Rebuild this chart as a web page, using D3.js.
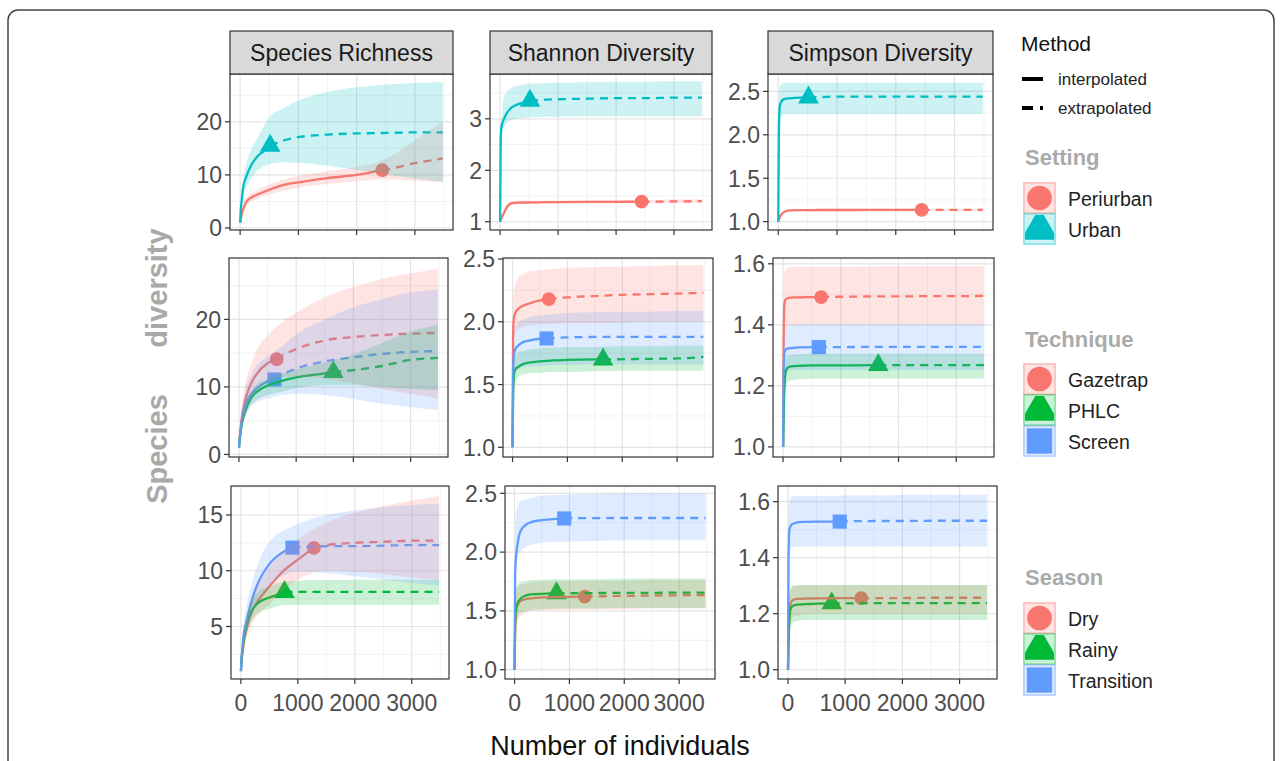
<!DOCTYPE html>
<html>
<head>
<meta charset="utf-8">
<script src="https://cdn.jsdelivr.net/npm/d3@7"></script>
<style>
  body { margin: 0; background: #fff; }
  svg { display: block; font-family: "Liberation Sans", Arial, sans-serif; }
</style>
</head>
<body>
<svg id="chart" width="1282" height="761"></svg>
<script>
// ---------------------------------------------
// DATA
// ---------------------------------------------
const XS = [1, 10, 25, 50, 100, 200, 300, 500, 750, 1000, 1500, 2000, 2500, 3000, 3480];
const X_TICKS = [0, 1000, 2000, 3000];
const X_MINOR = [500, 1500, 2500, 3500];

const METRICS = ["Species Richness", "Shannon Diversity", "Simpson Diversity"];
const FACTORS = ["Setting", "Technique", "Season"];

const SETTING_GROUPS = ["Periurban", "Urban"];
const TECHNIQUE_GROUPS = ["Gazetrap", "PHLC", "Screen"];
const SEASON_GROUPS = ["Dry", "Rainy", "Transition"];

// reference sample sizes (where the marker sits)
const SETTING_N = [2440, 515];
const TECHNIQUE_N = [660, 1650, 620];
const SEASON_N = [1280, 765, 905];

const Y_TICKS = [
  [[0, 10, 20], [1, 2, 3], [1.0, 1.5, 2.0, 2.5]],
  [[0, 10, 20], [1.0, 1.5, 2.0, 2.5], [1.0, 1.2, 1.4, 1.6]],
  [[5, 10, 15], [1.0, 1.5, 2.0, 2.5], [1.0, 1.2, 1.4, 1.6]]
];

// row 1 : Setting
const RICH_SETTING = {
  mark: [10.9, 15.5],
  est: [[1, 1.6, 2.5, 3.5, 4.8, 5.8, 6.3, 7.2, 8.1, 8.6, 9.4, 10.0, 11.0, 12.2, 13.1],
        [1, 3.2, 5, 7.5, 9.5, 12, 13.5, 15.3, 16.5, 17.1, 17.6, 17.8, 17.9, 18.0, 18.0]],
  lo:  [[1, 1.3, 2, 2.8, 4, 5, 5.5, 6.3, 7, 7.6, 8.3, 8.8, 9.2, 8.9, 8.6],
        [1, 2.6, 4, 6, 7.5, 9.5, 10.8, 12, 12.4, 12.3, 11.7, 10.9, 10.1, 9.3, 8.7]],
  hi:  [[1, 1.9, 3, 4.2, 5.6, 6.6, 7.2, 8.2, 9.1, 9.8, 10.7, 11.5, 13, 16.5, 20],
        [1, 3.8, 6, 9, 11.8, 15, 17, 20.8, 22.6, 24, 25.6, 26.5, 27, 27.3, 27.5]]
};
const SHAN_SETTING = {
  mark: [1.39, 3.35],
  est: [[1.0, 1.03, 1.07, 1.13, 1.25, 1.36, 1.37, 1.375, 1.38, 1.383, 1.386, 1.388, 1.39, 1.395, 1.4],
        [1.0, 2.6, 2.85, 2.95, 3.08, 3.22, 3.28, 3.345, 3.37, 3.38, 3.39, 3.4, 3.4, 3.41, 3.41]],
  lo:  [[1.0, 1.02, 1.05, 1.1, 1.21, 1.32, 1.34, 1.35, 1.355, 1.36, 1.36, 1.36, 1.36, 1.36, 1.36],
        [1.0, 2.3, 2.7, 2.8, 2.9, 2.98, 3.0, 3.03, 3.04, 3.04, 3.05, 3.05, 3.05, 3.05, 3.05]],
  hi:  [[1.0, 1.04, 1.09, 1.16, 1.29, 1.4, 1.41, 1.41, 1.41, 1.41, 1.415, 1.42, 1.42, 1.43, 1.44],
        [1.0, 2.9, 3.0, 3.3, 3.5, 3.6, 3.64, 3.68, 3.69, 3.7, 3.71, 3.72, 3.72, 3.73, 3.73]]
};
const SIMP_SETTING = {
  mark: [1.135, 2.43],
  est: [[1.0, 1.02, 1.05, 1.08, 1.11, 1.13, 1.132, 1.133, 1.134, 1.134, 1.135, 1.135, 1.135, 1.135, 1.135],
        [1.0, 2.0, 2.32, 2.38, 2.41, 2.42, 2.425, 2.43, 2.435, 2.44, 2.44, 2.44, 2.44, 2.44, 2.44]],
  lo:  [[1.0, 1.01, 1.04, 1.07, 1.1, 1.12, 1.12, 1.12, 1.12, 1.12, 1.12, 1.12, 1.12, 1.12, 1.12],
        [1.0, 1.8, 2.1, 2.2, 2.24, 2.24, 2.24, 2.24, 2.24, 2.24, 2.24, 2.24, 2.24, 2.24, 2.24]],
  hi:  [[1.0, 1.03, 1.06, 1.09, 1.12, 1.14, 1.145, 1.147, 1.148, 1.15, 1.15, 1.15, 1.15, 1.15, 1.15],
        [1.0, 2.3, 2.55, 2.58, 2.6, 2.6, 2.6, 2.6, 2.6, 2.6, 2.6, 2.6, 2.6, 2.6, 2.6]]
};

// row 2 : Technique
const RICH_TECHNIQUE = {
  mark: [14.1, 12.2, 11.1],
  est: [[1, 2, 3.5, 5.5, 7.7, 10.3, 11.8, 13.5, 14.6, 15.6, 16.9, 17.4, 17.7, 17.9, 18.0],
        [1, 2, 3, 4.5, 6.2, 8.2, 9.2, 10.2, 10.9, 11.4, 12.0, 12.5, 13.1, 14.0, 14.3],
        [1, 2, 3.2, 5, 7, 8.8, 9.7, 10.8, 11.8, 12.7, 13.8, 14.4, 14.9, 15.2, 15.3]],
  lo:  [[1, 1.6, 2.5, 4, 5.5, 8, 9.3, 10.8, 11.4, 11.5, 11.2, 10.5, 9.7, 9, 8.3],
        [1, 1.7, 2.5, 3.8, 5.3, 7.2, 8, 8.8, 9.3, 9.8, 10.3, 10.3, 10, 9.7, 9.5],
        [1, 1.6, 2.5, 4, 5.5, 7, 7.7, 8.3, 8.8, 9, 8.8, 8.2, 7.5, 7, 6.6]],
  hi:  [[1, 2.4, 4.5, 7, 10, 13, 15.3, 17.6, 19.6, 21, 23.3, 24.8, 26, 26.8, 27.5],
        [1, 2.3, 3.5, 5.2, 7, 9.2, 10.3, 11.2, 12, 12.6, 13.6, 14.8, 16.5, 18.2, 19.2],
        [1, 2.4, 4, 6.5, 9, 11.5, 13, 14.5, 16, 17.8, 20, 21.8, 23, 24, 24.4]]
};
const SHAN_TECHNIQUE = {
  mark: [2.18, 1.70, 1.867],
  est: [[1.0, 1.9, 2.03, 2.07, 2.1, 2.13, 2.145, 2.17, 2.185, 2.195, 2.205, 2.215, 2.22, 2.225, 2.23],
        [1.0, 1.4, 1.58, 1.62, 1.64, 1.665, 1.675, 1.685, 1.693, 1.697, 1.70, 1.702, 1.705, 1.708, 1.72],
        [1.0, 1.6, 1.74, 1.78, 1.81, 1.84, 1.85, 1.865, 1.872, 1.876, 1.879, 1.88, 1.88, 1.88, 1.88]],
  lo:  [[1.0, 1.7, 1.85, 1.9, 1.94, 1.96, 1.97, 1.98, 1.985, 1.99, 1.99, 1.995, 2.0, 2.0, 2.0],
        [1.0, 1.25, 1.45, 1.52, 1.56, 1.58, 1.59, 1.595, 1.6, 1.6, 1.605, 1.61, 1.61, 1.61, 1.61],
        [1.0, 1.45, 1.56, 1.6, 1.62, 1.64, 1.645, 1.65, 1.655, 1.655, 1.66, 1.66, 1.66, 1.66, 1.66]],
  hi:  [[1.0, 2.1, 2.25, 2.3, 2.35, 2.38, 2.4, 2.41, 2.42, 2.43, 2.435, 2.44, 2.445, 2.45, 2.45],
        [1.0, 1.55, 1.7, 1.73, 1.76, 1.77, 1.78, 1.79, 1.795, 1.8, 1.8, 1.805, 1.805, 1.81, 1.81],
        [1.0, 1.8, 1.9, 1.95, 1.99, 2.02, 2.035, 2.05, 2.06, 2.07, 2.075, 2.08, 2.08, 2.085, 2.085]]
};
const SIMP_TECHNIQUE = {
  mark: [1.491, 1.268, 1.327],
  est: [[1.0, 1.35, 1.47, 1.485, 1.488, 1.49, 1.49, 1.491, 1.492, 1.492, 1.493, 1.493, 1.494, 1.494, 1.495],
        [1.0, 1.1, 1.2, 1.25, 1.262, 1.265, 1.266, 1.267, 1.267, 1.267, 1.268, 1.268, 1.268, 1.268, 1.268],
        [1.0, 1.25, 1.31, 1.32, 1.323, 1.325, 1.326, 1.327, 1.327, 1.327, 1.328, 1.328, 1.328, 1.328, 1.328]],
  lo:  [[1.0, 1.25, 1.37, 1.39, 1.4, 1.4, 1.4, 1.4, 1.4, 1.4, 1.4, 1.4, 1.4, 1.4, 1.4],
        [1.0, 1.05, 1.15, 1.2, 1.215, 1.22, 1.222, 1.224, 1.224, 1.224, 1.224, 1.224, 1.224, 1.224, 1.224],
        [1.0, 1.15, 1.23, 1.245, 1.25, 1.252, 1.252, 1.252, 1.252, 1.252, 1.252, 1.252, 1.252, 1.252, 1.252]],
  hi:  [[1.0, 1.5, 1.57, 1.58, 1.59, 1.59, 1.59, 1.59, 1.59, 1.59, 1.591, 1.592, 1.592, 1.593, 1.593],
        [1.0, 1.15, 1.25, 1.29, 1.3, 1.303, 1.304, 1.305, 1.305, 1.305, 1.305, 1.305, 1.305, 1.305, 1.305],
        [1.0, 1.32, 1.38, 1.395, 1.4, 1.402, 1.402, 1.402, 1.402, 1.402, 1.402, 1.402, 1.402, 1.402, 1.402]]
};

// row 3 : Season
const RICH_SEASON = {
  mark: [12.05, 8.1, 12.07],
  est: [[1, 1.8, 2.5, 3.6, 4.8, 6.4, 7.3, 8.6, 10, 11, 12.3, 12.5, 12.6, 12.7, 12.7],
        [1, 2, 2.7, 3.8, 5.2, 6.5, 7.1, 7.6, 8.05, 8.1, 8.1, 8.1, 8.1, 8.1, 8.1],
        [1, 2, 3.0, 4.3, 5.5, 7.5, 8.9, 10.6, 11.7, 12.1, 12.2, 12.2, 12.25, 12.3, 12.3]],
  lo:  [[1, 1.5, 2, 2.9, 3.9, 5.3, 6, 7, 8.2, 9.2, 10, 9.9, 9.7, 9.4, 9.2],
        [1, 1.7, 2.2, 3, 4.3, 5.6, 6.2, 6.6, 6.9, 6.95, 6.95, 6.95, 6.95, 6.95, 6.95],
        [1, 1.6, 2.3, 3.4, 4.4, 6.2, 7.3, 8.7, 9.6, 9.9, 9.8, 9.5, 9.2, 8.9, 8.7]],
  hi:  [[1, 2.1, 3, 4.3, 5.7, 7.5, 8.8, 10.3, 11.8, 12.8, 14.3, 15.2, 15.8, 16.3, 16.7],
        [1, 2.3, 3.3, 4.6, 6, 7.4, 8.1, 8.6, 9, 9.1, 9.2, 9.2, 9.2, 9.2, 9.2],
        [1, 2.4, 3.8, 5.3, 6.8, 9, 10.6, 12.6, 13.6, 14.2, 15, 15.4, 15.7, 15.9, 16]]
};
const SHAN_SEASON = {
  mark: [1.622, 1.65, 2.286],
  est: [[1.0, 1.3, 1.48, 1.54, 1.58, 1.6, 1.607, 1.615, 1.618, 1.62, 1.624, 1.628, 1.63, 1.633, 1.635],
        [1.0, 1.35, 1.52, 1.56, 1.6, 1.63, 1.64, 1.645, 1.65, 1.65, 1.652, 1.653, 1.654, 1.655, 1.655],
        [1.0, 1.8, 1.95, 2.05, 2.17, 2.23, 2.255, 2.272, 2.282, 2.288, 2.289, 2.29, 2.29, 2.29, 2.29]],
  lo:  [[1.0, 1.1, 1.3, 1.4, 1.45, 1.48, 1.5, 1.505, 1.51, 1.51, 1.515, 1.515, 1.52, 1.52, 1.52],
        [1.0, 1.2, 1.38, 1.44, 1.48, 1.5, 1.51, 1.515, 1.52, 1.52, 1.52, 1.525, 1.525, 1.525, 1.525],
        [1.0, 1.55, 1.8, 1.95, 2.0, 2.04, 2.06, 2.08, 2.085, 2.09, 2.095, 2.1, 2.1, 2.1, 2.1]],
  hi:  [[1.0, 1.55, 1.65, 1.7, 1.72, 1.73, 1.74, 1.745, 1.75, 1.75, 1.755, 1.755, 1.76, 1.76, 1.76],
        [1.0, 1.55, 1.68, 1.72, 1.74, 1.75, 1.76, 1.765, 1.77, 1.77, 1.772, 1.774, 1.775, 1.775, 1.775],
        [1.0, 2.1, 2.3, 2.38, 2.43, 2.45, 2.46, 2.48, 2.485, 2.49, 2.495, 2.5, 2.5, 2.5, 2.5]]
};
const SIMP_SEASON = {
  mark: [1.256, 1.237, 1.529],
  est: [[1.0, 1.12, 1.2, 1.24, 1.25, 1.253, 1.254, 1.255, 1.255, 1.256, 1.256, 1.256, 1.257, 1.257, 1.257],
        [1.0, 1.1, 1.18, 1.22, 1.23, 1.233, 1.234, 1.236, 1.237, 1.237, 1.238, 1.238, 1.238, 1.238, 1.238],
        [1.0, 1.4, 1.5, 1.515, 1.522, 1.527, 1.528, 1.529, 1.529, 1.53, 1.531, 1.531, 1.532, 1.532, 1.532]],
  lo:  [[1.0, 1.0, 1.12, 1.17, 1.19, 1.195, 1.2, 1.2, 1.2, 1.2, 1.2, 1.2, 1.2, 1.2, 1.2],
        [1.0, 1.02, 1.12, 1.15, 1.17, 1.175, 1.178, 1.178, 1.178, 1.178, 1.178, 1.178, 1.178, 1.178, 1.178],
        [1.0, 1.3, 1.4, 1.43, 1.438, 1.44, 1.44, 1.44, 1.44, 1.44, 1.44, 1.44, 1.44, 1.44, 1.44]],
  hi:  [[1.0, 1.2, 1.26, 1.29, 1.3, 1.3, 1.3, 1.3, 1.3, 1.3, 1.3, 1.3, 1.3, 1.3, 1.3],
        [1.0, 1.2, 1.27, 1.29, 1.3, 1.302, 1.303, 1.303, 1.303, 1.303, 1.303, 1.303, 1.303, 1.303, 1.303],
        [1.0, 1.55, 1.6, 1.615, 1.62, 1.62, 1.62, 1.62, 1.621, 1.622, 1.623, 1.624, 1.625, 1.625, 1.625]]
};

// ---------------------------------------------
// LAYOUT + STYLE
// ---------------------------------------------
const COLORS3 = ["#F8766D", "#00BA38", "#619CFF"];
const COLORS2 = ["#F8766D", "#00BFC4"];
const SHAPES3 = [d3.symbolCircle, d3.symbolTriangle, d3.symbolSquare];
const SHAPE_SIZE = new Map([[d3.symbolCircle, 150], [d3.symbolTriangle, 185], [d3.symbolSquare, 200]]);

const ROWS = [
  {groups: SETTING_GROUPS, n: SETTING_N, colors: COLORS2, panels: [RICH_SETTING, SHAN_SETTING, SIMP_SETTING]},
  {groups: TECHNIQUE_GROUPS, n: TECHNIQUE_N, colors: COLORS3, panels: [RICH_TECHNIQUE, SHAN_TECHNIQUE, SIMP_TECHNIQUE]},
  {groups: SEASON_GROUPS, n: SEASON_N, colors: COLORS3, panels: [RICH_SEASON, SHAN_SEASON, SIMP_SEASON]}
];

// panel rectangles [left, top, right, bottom] and visible y range
const RECTS = [
  [[230, 74, 453, 230], [490, 74, 712, 230], [768, 74, 993, 230]],
  [[229, 258, 448, 457], [503, 258, 713, 457], [773, 258, 994, 457]],
  [[231, 486, 449, 679], [505, 486, 715, 679], [778, 486, 997, 679]]
];
const Y_RANGE = [
  [[-0.38, 29.0], [0.84, 3.87], [0.904, 2.70]],
  [[-0.38, 29.1], [0.923, 2.508], [0.967, 1.619]],
  [[0.29, 17.6], [0.921, 2.562], [0.967, 1.656]]
];
const X_RANGE = [-174, 3654];
const STRIP_TOP = 31;

const svg = d3.select("#chart");

// outer frame of the figure
svg.append("rect")
  .attr("x", 8).attr("y", 10).attr("width", 1266).attr("height", 770)
  .attr("rx", 10).attr("fill", "none").attr("stroke", "#444").attr("stroke-width", 1.5);

let clipId = 0;

ROWS.forEach((row, r) => {
  row.panels.forEach((pd, c) => {
    const [L, T, R, B] = RECTS[r][c];
    const x = d3.scaleLinear().domain(X_RANGE).range([L, R]);
    const y = d3.scaleLinear().domain(Y_RANGE[r][c]).range([B, T]);
    const g = svg.append("g");

    // grid
    const yt = Y_TICKS[r][c];
    const step = yt[1] - yt[0];
    const yMinor = yt.map(v => v - step / 2).concat([yt[yt.length - 1] + step / 2])
      .filter(v => v > Y_RANGE[r][c][0] && v < Y_RANGE[r][c][1]);

    g.selectAll(".gmx").data(X_MINOR).enter().append("line")
      .attr("x1", d => x(d)).attr("x2", d => x(d)).attr("y1", T).attr("y2", B)
      .attr("stroke", "#f0f0f0").attr("stroke-width", 0.9);
    g.selectAll(".gmy").data(yMinor).enter().append("line")
      .attr("x1", L).attr("x2", R).attr("y1", d => y(d)).attr("y2", d => y(d))
      .attr("stroke", "#f0f0f0").attr("stroke-width", 0.9);
    g.selectAll(".gx").data(X_TICKS).enter().append("line")
      .attr("x1", d => x(d)).attr("x2", d => x(d)).attr("y1", T).attr("y2", B)
      .attr("stroke", "#e4e4e4").attr("stroke-width", 1.2);
    g.selectAll(".gy").data(yt).enter().append("line")
      .attr("x1", L).attr("x2", R).attr("y1", d => y(d)).attr("y2", d => y(d))
      .attr("stroke", "#e4e4e4").attr("stroke-width", 1.2);

    // clip
    const cid = "clip" + (clipId++);
    svg.append("clipPath").attr("id", cid)
      .append("rect").attr("x", L).attr("y", T).attr("width", R - L).attr("height", B - T);
    const body = g.append("g").attr("clip-path", `url(#${cid})`);

    const line = d3.line().x(d => x(d[0])).y(d => y(d[1])).curve(d3.curveMonotoneX);
    const area = d3.area().x((d, i) => x(XS[i])).y0(d => y(d[0])).y1(d => y(d[1]))
      .curve(d3.curveMonotoneX);

    // points
    row.groups.forEach((grp, k) => {
      body.append("path")
        .attr("transform", `translate(${x(row.n[k])},${y(pd.mark[k])})`)
        .attr("d", d3.symbol().type(SHAPES3[k]).size(SHAPE_SIZE.get(SHAPES3[k]))())
        .attr("fill", row.colors[k]);
    });

    // lines
    row.groups.forEach((grp, k) => {
      const interp = [], extrap = [];
      XS.forEach((xv, i) => {
        if (xv < row.n[k]) interp.push([xv, pd.est[k][i]]);
        else extrap.push([xv, pd.est[k][i]]);
      });
      interp.push([row.n[k], pd.mark[k]]);
      extrap.unshift([row.n[k], pd.mark[k]]);
      body.append("path").attr("d", line(interp))
        .attr("fill", "none").attr("stroke", row.colors[k]).attr("stroke-width", 2.3);
      body.append("path").attr("d", line(extrap))
        .attr("fill", "none").attr("stroke", row.colors[k]).attr("stroke-width", 2.3)
        .attr("stroke-dasharray", "8,6");
    });

    // ribbons (drawn last, as in ggiNEXT)
    row.groups.forEach((grp, k) => {
      body.append("path")
        .attr("d", area(pd.lo[k].map((v, i) => [v, pd.hi[k][i]])))
        .attr("fill", row.colors[k]).attr("fill-opacity", 0.2);
    });

    // border
    g.append("rect").attr("x", L).attr("y", T).attr("width", R - L).attr("height", B - T)
      .attr("fill", "none").attr("stroke", "#333").attr("stroke-width", 1.2);

    // axes ticks
    g.selectAll(".tx").data(X_TICKS).enter().append("line")
      .attr("x1", d => x(d)).attr("x2", d => x(d)).attr("y1", B).attr("y2", B + 5)
      .attr("stroke", "#333").attr("stroke-width", 1.2);
    g.selectAll(".ty").data(yt).enter().append("line")
      .attr("x1", L - 5).attr("x2", L).attr("y1", d => y(d)).attr("y2", d => y(d))
      .attr("stroke", "#333").attr("stroke-width", 1.2);

    const fmt = Number.isInteger(step) && yt.every(Number.isInteger) ? d3.format("d") : d3.format(".1f");
    g.selectAll(".ly").data(yt).enter().append("text")
      .attr("x", L - 8).attr("y", d => y(d)).attr("dy", "0.36em")
      .attr("text-anchor", "end").attr("font-size", 23).attr("fill", "#4d4d4d")
      .text(d => fmt(d));

    if (r === 2) {
      g.selectAll(".lx").data(X_TICKS).enter().append("text")
        .attr("x", d => x(d)).attr("y", B + 32)
        .attr("text-anchor", "middle").attr("font-size", 23).attr("fill", "#4d4d4d")
        .text(d => d);
    }

    // strip
    if (r === 0) {
      g.append("rect").attr("x", L).attr("y", STRIP_TOP).attr("width", R - L).attr("height", T - STRIP_TOP)
        .attr("fill", "#d9d9d9").attr("stroke", "#333").attr("stroke-width", 1.2);
      g.append("text").attr("x", (L + R) / 2).attr("y", (STRIP_TOP + T) / 2).attr("dy", "0.36em")
        .attr("text-anchor", "middle").attr("font-size", 23).attr("fill", "#1a1a1a")
        .text(METRICS[c]);
    }
  });
});

// axis titles
svg.append("text").attr("x", 620).attr("y", 755).attr("text-anchor", "middle")
  .attr("font-size", 27).attr("fill", "#111").text("Number of individuals");
svg.append("text").attr("transform", "translate(167,449) rotate(-90)")
  .attr("text-anchor", "middle").attr("font-size", 29).attr("font-weight", "bold")
  .attr("fill", "#a9a9a9").text("Species");
svg.append("text").attr("transform", "translate(167,288) rotate(-90)")
  .attr("text-anchor", "middle").attr("font-size", 29).attr("font-weight", "bold")
  .attr("fill", "#a9a9a9").text("diversity");

// ---------------------------------------------
// LEGENDS
// ---------------------------------------------
const leg = svg.append("g");
leg.append("text").attr("x", 1021).attr("y", 51).attr("font-size", 21).attr("fill", "#111").text("Method");
leg.append("line").attr("x1", 1022).attr("x2", 1043).attr("y1", 79).attr("y2", 79)
  .attr("stroke", "#000").attr("stroke-width", 4);
leg.append("line").attr("x1", 1022).attr("x2", 1043).attr("y1", 108).attr("y2", 108)
  .attr("stroke", "#000").attr("stroke-width", 4).attr("stroke-dasharray", "11,7");
leg.append("text").attr("x", 1058).attr("y", 79).attr("dy", "0.36em").attr("font-size", 17)
  .attr("fill", "#222").text("interpolated");
leg.append("text").attr("x", 1058).attr("y", 108).attr("dy", "0.36em").attr("font-size", 17)
  .attr("fill", "#222").text("extrapolated");

const LEGEND_TITLE_Y = [157, 339, 577];
const LEGEND_KEY_Y = [183, 364, 603];

ROWS.forEach((row, r) => {
  leg.append("text").attr("x", 1025).attr("y", LEGEND_TITLE_Y[r]).attr("dy", "0.36em")
    .attr("font-size", 22).attr("font-weight", "bold").attr("fill", "#aaa").text(FACTORS[r]);
  row.groups.forEach((grp, k) => {
    const ky = LEGEND_KEY_Y[r] + k * 31;
    const kid = "kclip" + r + "_" + k;
    svg.append("clipPath").attr("id", kid)
      .append("rect").attr("x", 1025).attr("y", ky + 1).attr("width", 29).attr("height", 28);
    const kg = leg.append("g");
    kg.append("rect").attr("x", 1024).attr("y", ky).attr("width", 31).attr("height", 30)
      .attr("fill", "#fff").attr("stroke", row.colors[k]).attr("stroke-opacity", 0.55).attr("stroke-width", 1.5);
    const inner = kg.append("g").attr("clip-path", `url(#${kid})`);
    inner.append("path")
      .attr("transform", `translate(1039.5,${ky + 15})`)
      .attr("d", d3.symbol().type(SHAPES3[k]).size(SHAPE_SIZE.get(SHAPES3[k]) * 3.2)())
      .attr("fill", row.colors[k]);
    inner.append("rect").attr("x", 1024).attr("y", ky).attr("width", 31).attr("height", 30)
      .attr("fill", row.colors[k]).attr("fill-opacity", 0.2);
    leg.append("text").attr("x", 1068).attr("y", ky + 16).attr("dy", "0.36em")
      .attr("font-size", 19.5).attr("fill", "#222").text(grp);
  });
});
</script>
</body>
</html>
